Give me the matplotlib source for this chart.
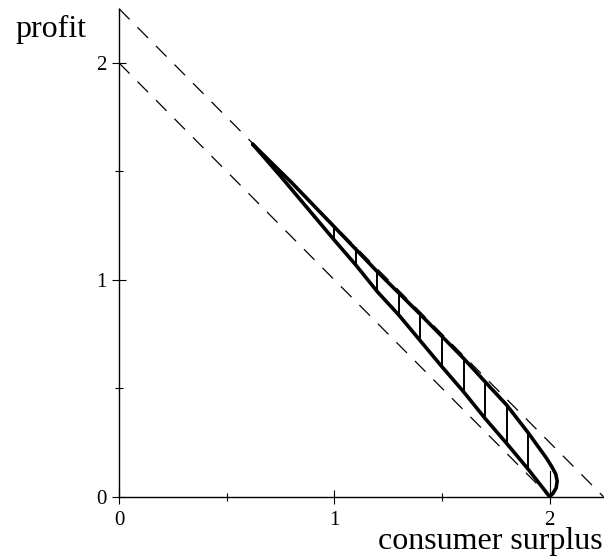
import numpy as np
import matplotlib
matplotlib.use('Agg')
import matplotlib.pyplot as plt
from matplotlib.ticker import MultipleLocator

plt.rcParams['font.family'] = ['Liberation Serif', 'DejaVu Serif']

# ── data ──────────────────────────────────────────────────
upper_x = [0.621, 0.8, 1.0, 1.2, 1.4, 1.6, 1.7, 1.8, 1.9, 1.958, 1.985, 2.01,
           2.028, 2.035, 2.03, 2.015, 2.0]
upper_y = [1.625, 1.45, 1.244, 1.037, 0.84, 0.638, 0.53, 0.423, 0.295, 0.215,
           0.178, 0.138, 0.105, 0.072, 0.04, 0.015, 0.0]

lower_x = [0.621, 0.75, 1.0, 1.1, 1.2, 1.3, 1.5, 1.6, 1.7, 1.8, 1.9, 2.0]
lower_y = [1.625, 1.478, 1.183, 1.068, 0.945, 0.837, 0.599, 0.484, 0.361,
           0.246, 0.127, 0.0]

hatch_x = [1.0, 1.1, 1.2, 1.3, 1.4, 1.5, 1.6, 1.7, 1.8, 1.9, 2.0]
hatch_top = [1.244, 1.145, 1.037, 0.937, 0.84, 0.745, 0.638, 0.53, 0.423, 0.295, 0.12]
hatch_bot = [1.183, 1.068, 0.945, 0.837, 0.72, 0.599, 0.484, 0.361, 0.246, 0.127, 0.0]

# iso-welfare lines: cs + profit = const
iso_levels = [2.0, 2.25]

XMAX = YMAX = 2.25

fig = plt.figure(figsize=(6.04, 5.56), dpi=100)
ax = fig.add_axes([119 / 604, 59.3 / 556, 484.5 / 604, 488 / 556])
ax.set_xlim(0, XMAX)
ax.set_ylim(0, YMAX)

for s in ['top', 'right']:
    ax.spines[s].set_visible(False)
for s in ['left', 'bottom']:
    ax.spines[s].set_linewidth(1.0)

ax.xaxis.set_major_locator(MultipleLocator(1))
ax.xaxis.set_minor_locator(MultipleLocator(0.5))
ax.yaxis.set_major_locator(MultipleLocator(1))
ax.yaxis.set_minor_locator(MultipleLocator(0.5))
ax.tick_params(which='major', direction='inout', length=10, width=0.8,
               labelsize=15)
ax.tick_params(which='minor', direction='inout', length=6, width=0.8)
ax.tick_params(axis='x', which='major', pad=5)
ax.tick_params(axis='y', which='major', pad=4)

# dashed lines
for c in iso_levels:
    ax.plot([0, c], [c, 0], color='black', lw=0.9, ls=(0, (12, 9)),
            clip_on=False)

# hatching between the two boundaries
for hx, t, b in zip(hatch_x, hatch_top, hatch_bot):
    w = 0.8 if hx >= 2.0 else 1.4
    ax.plot([hx, hx], [b, t], color='black', lw=w)

ax.plot(upper_x, upper_y, color='black', lw=2.6, solid_capstyle='round',
        solid_joinstyle='round')
ax.plot(lower_x, lower_y, color='black', lw=2.6, solid_capstyle='round',
        solid_joinstyle='round')

fig.text(15 / 604, 1 - 37 / 556, 'profit', fontsize=23, va='baseline')
fig.text(378 / 604, 1 - 549 / 556, 'consumer surplus', fontsize=23,
         va='baseline')

fig.savefig('out.png', dpi=100)
